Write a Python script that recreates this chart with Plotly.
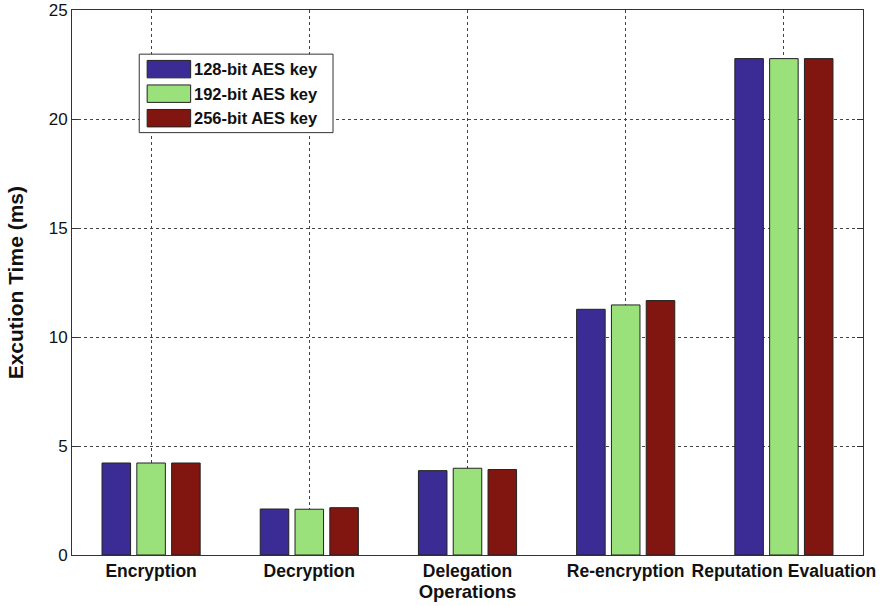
import plotly.graph_objects as go

categories = ["Encryption", "Decryption", "Delegation", "Re-encryption", "Reputation Evaluation"]
series_names = ["128-bit AES key", "192-bit AES key", "256-bit AES key"]
aes128 = [4.22, 2.11, 3.87, 11.27, 22.77]
aes192 = [4.22, 2.10, 3.98, 11.47, 22.77]
aes256 = [4.22, 2.17, 3.92, 11.67, 22.77]
colors = ["#3A2C94", "#9AE07B", "#80160F"]
y_ticks = [0, 5, 10, 15, 20, 25]

FONT = "Liberation Sans, Arial, sans-serif"

fig = go.Figure()
for name, vals, col in zip(series_names, [aes128, aes192, aes256], colors):
    fig.add_trace(go.Bar(
        x=categories, y=vals, name=name,
        marker=dict(color=col, line=dict(color="#222222", width=1)),
        showlegend=False,
    ))

# custom legend (MATLAB-like wide swatches)
lx0, ly0 = 0.085, 0.915
row_h = 0.045
fig.add_shape(type="rect", xref="paper", yref="paper",
              x0=lx0, x1=lx0 + 0.245, y0=ly0 - 3 * row_h - 0.005, y1=ly0 + 0.004,
              line=dict(color="#333333", width=1), fillcolor="white", layer="above")
for i, (name, col) in enumerate(zip(series_names, colors)):
    yc = ly0 - (i + 0.5) * row_h - 0.001
    fig.add_shape(type="rect", xref="paper", yref="paper",
                  x0=lx0 + 0.01, x1=lx0 + 0.065, y0=yc - 0.016, y1=yc + 0.016,
                  line=dict(color="#222222", width=1), fillcolor=col, layer="above")
    fig.add_annotation(x=lx0 + 0.067, y=yc, xref="paper", yref="paper",
                       text="<b>%s</b>" % name, showarrow=False,
                       xanchor="left", yanchor="middle",
                       font=dict(family=FONT, size=16.5, color="#111111"))

# y-axis title as rotated annotation
fig.add_annotation(x=-0.071, y=0.5, xref="paper", yref="paper",
                   text="<b>Excution Time (ms)</b>", showarrow=False, textangle=-90,
                   xanchor="center", yanchor="middle",
                   font=dict(family=FONT, size=21, color="#111111"))

fig.update_layout(
    width=881, height=606,
    margin=dict(l=72, r=18, t=10, b=51),
    paper_bgcolor="white", plot_bgcolor="white",
    barmode="group", bargap=0.34, bargroupgap=0.18,
    font=dict(family=FONT, size=17, color="#111111"),
)
fig.update_xaxes(
    range=[-0.5, 4.5], automargin=False,
    showline=True, linecolor="#333333", linewidth=1, mirror=True,
    showgrid=True, gridcolor="#444444", griddash="dot", gridwidth=1,
    ticks="", tickfont=dict(family=FONT, size=17.5, color="#111111"),
    tickprefix="<b>", ticksuffix="</b>",
    title=dict(text="<b>Operations</b>", font=dict(family=FONT, size=18.5), standoff=0),
)
fig.update_yaxes(
    range=[0, 25], tickvals=y_ticks, automargin=False,
    showline=True, linecolor="#333333", linewidth=1, mirror="allticks",
    showgrid=True, gridcolor="#444444", griddash="dot", gridwidth=1,
    ticks="inside", ticklen=6, tickcolor="#333333",
    tickfont=dict(family=FONT, size=17, color="#111111"),
    tickprefix="<b>", ticksuffix="</b>",
    zeroline=False,
)

fig.write_html("out.html", config={"displayModeBar": False},
               post_script="document.body.style.margin='0';")
